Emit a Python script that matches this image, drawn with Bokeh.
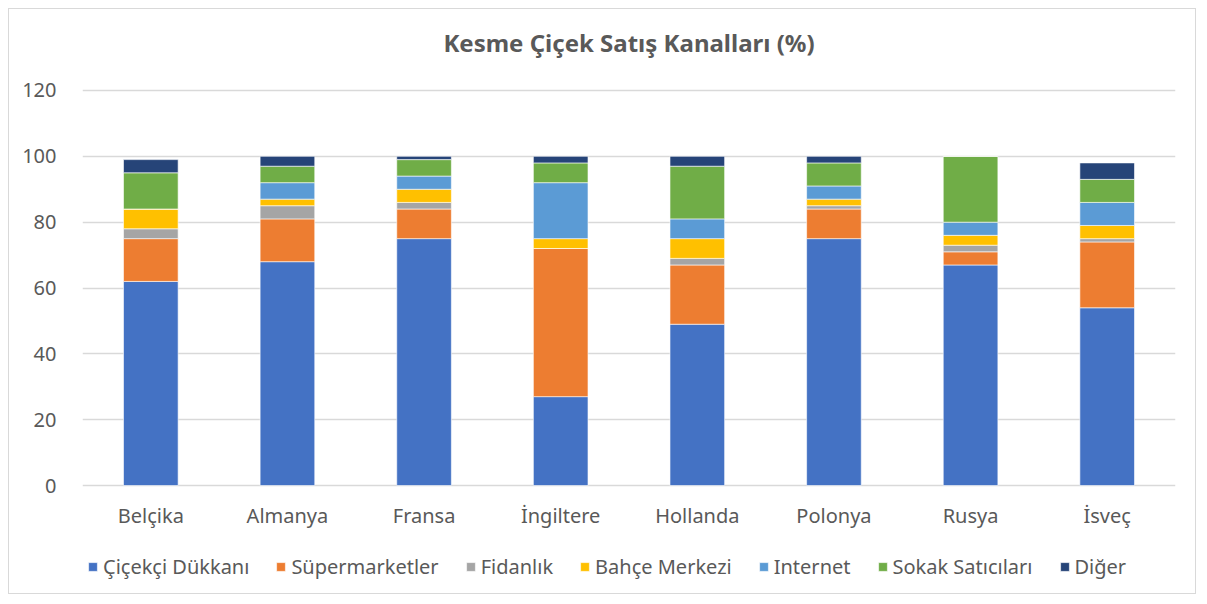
from bokeh.plotting import figure
from bokeh.models import ColumnDataSource, Legend, LegendItem, FixedTicker, Range1d, Label
from bokeh.embed import file_html
from bokeh.resources import INLINE

countries = ["Belçika", "Almanya", "Fransa", "İngiltere", "Hollanda", "Polonya", "Rusya", "İsveç"]
series = ["Çiçekçi Dükkanı", "Süpermarketler", "Fidanlık", "Bahçe Merkezi", "Internet", "Sokak Satıcıları", "Diğer"]
cicekci = [62, 68, 75, 27, 49, 75, 67, 54]
supermarket = [13, 13, 9, 45, 18, 9, 4, 20]
fidanlik = [3, 4, 2, 0, 2, 1, 2, 1]
bahce = [6, 2, 4, 3, 6, 2, 3, 4]
internet = [0, 5, 4, 17, 6, 4, 4, 7]
sokak = [11, 5, 5, 6, 16, 7, 20, 7]
diger = [4, 3, 1, 2, 3, 2, 0, 5]
colors = ["#4472C4", "#ED7D31", "#A5A5A5", "#FFC000", "#5B9BD5", "#70AD47", "#264478"]
y_ticks = [0, 20, 40, 60, 80, 100, 120]
title_text = "Kesme Çiçek Satış Kanalları (%)"

keys = ["s0", "s1", "s2", "s3", "s4", "s5", "s6"]
source = ColumnDataSource(data=dict(x=countries, s0=cicekci, s1=supermarket, s2=fidanlik,
                                    s3=bahce, s4=internet, s5=sokak, s6=diger))

FONT = "Noto Sans"
GRAY = "#595959"
# frame covers the whole canvas height; the visible value axis runs 0..120
p = figure(x_range=countries, y_range=Range1d(-33.4, 144.6), width=1188, height=586,
           output_backend="svg", toolbar_location=None,
           min_border_left=73, min_border_right=22, min_border_top=0, min_border_bottom=0)
p.styles = {"border": "1px solid #d9d9d9", "margin": "8px"}

renderers = p.vbar_stack(keys, x="x", width=0.4, color=colors, source=source,
                         line_color="white", line_width=0.6)

p.outline_line_color = None
p.xgrid.grid_line_color = None
p.ygrid.grid_line_color = "#d9d9d9"
p.ygrid.grid_line_width = 1.4
p.yaxis.ticker = FixedTicker(ticks=y_ticks)
p.xaxis.fixed_location = 0
for ax in (p.xaxis, p.yaxis):
    ax.axis_line_color = None
    ax.major_tick_line_color = None
    ax.minor_tick_line_color = None
    ax.major_label_text_font = FONT
    ax.major_label_text_font_size = "20px"
    ax.major_label_text_color = GRAY
p.yaxis.major_label_standoff = 20
p.xaxis.major_label_standoff = 10
p.x_range.range_padding = 0.0

title = Label(x=len(countries) / 2, y=134.5, text=title_text, text_align="center",
              text_baseline="middle", text_font=FONT, text_font_size="24px",
              text_font_style="bold", text_color=GRAY)
p.add_layout(title)

legend = Legend(items=[LegendItem(label=n, renderers=[r]) for n, r in zip(series, renderers)],
                orientation="horizontal", location=(5, 15),
                label_text_font=FONT, label_text_font_size="20px", label_text_color=GRAY,
                glyph_width=11, glyph_height=11, spacing=26, label_standoff=5,
                border_line_color=None, background_fill_alpha=0, padding=4, margin=0)
p.add_layout(legend)

open("out.html", "w").write(file_html(p, INLINE))
